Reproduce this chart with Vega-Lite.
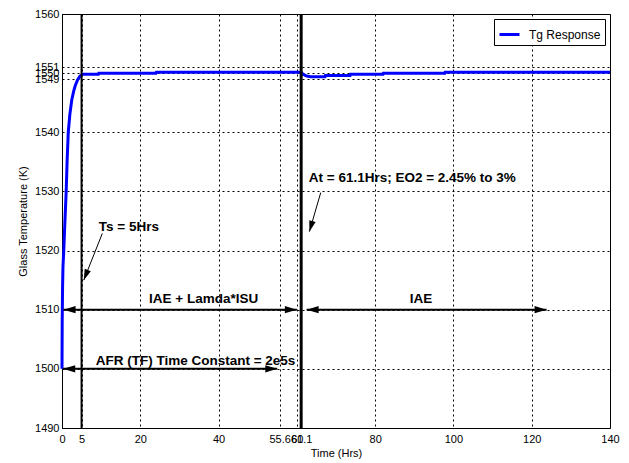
{
  "$schema": "https://vega.github.io/schema/vega-lite/v6.json",
  "width": 548,
  "height": 414,
  "autosize": {"type": "none"},
  "padding": {"left": 62, "top": 14, "right": 19, "bottom": 35},
  "background": "white",
  "config": {
    "view": {"stroke": "black", "strokeWidth": 1},
    "axis": {
      "grid": true, "gridColor": "black", "gridDash": [2, 3], "gridOpacity": 1, "gridWidth": 1,
      "domainColor": "black", "ticks": false,
      "labelColor": "black", "labelFont": "Liberation Sans", "labelFontSize": 11,
      "titleColor": "black", "titleFont": "Liberation Sans", "titleFontSize": 11, "titleFontWeight": "normal",
      "labelOverlap": false, "labelFlush": false
    },
    "legend": {
      "orient": "top-right", "offset": 5, "strokeColor": "black", "fillColor": "white",
      "padding": 4, "symbolType": "stroke", "symbolSize": 400, "symbolStrokeWidth": 3,
      "labelFont": "Liberation Sans", "labelFontSize": 12, "labelColor": "black", "labelOffset": 8
    }
  },
  "datasets": {
    "curve": [
      {"t": 0, "v": 1500}, {"t": 0.05, "v": 1508}, {"t": 0.15, "v": 1514}, {"t": 0.25, "v": 1517.3},
      {"t": 0.45, "v": 1520}, {"t": 0.75, "v": 1525}, {"t": 1.07, "v": 1530}, {"t": 1.3, "v": 1535},
      {"t": 1.6, "v": 1540}, {"t": 2.0, "v": 1543}, {"t": 2.5, "v": 1545.5}, {"t": 3.0, "v": 1547},
      {"t": 3.4, "v": 1547.9}, {"t": 4.0, "v": 1548.9}, {"t": 4.6, "v": 1549.5}, {"t": 5.3, "v": 1549.8},
      {"t": 9.3, "v": 1549.8}, {"t": 9.4, "v": 1550.0}, {"t": 24.0, "v": 1550.0}, {"t": 24.1, "v": 1550.15},
      {"t": 61.1, "v": 1550.15}, {"t": 61.6, "v": 1549.8}, {"t": 62.5, "v": 1549.5}, {"t": 63.5, "v": 1549.4},
      {"t": 67.2, "v": 1549.4}, {"t": 67.3, "v": 1549.6}, {"t": 73.6, "v": 1549.6}, {"t": 73.7, "v": 1549.8},
      {"t": 82.0, "v": 1549.8}, {"t": 82.1, "v": 1550.0}, {"t": 97.8, "v": 1550.0}, {"t": 97.9, "v": 1550.15},
      {"t": 140, "v": 1550.15}
    ],
    "vlines": [{"id": "ts", "t": 5}, {"id": "at", "t": 61.1}],
    "spans": [
      {"x1": 0.4, "x2": 60, "y": 1510},
      {"x1": 62.5, "x2": 123.8, "y": 1510},
      {"x1": 0.3, "x2": 55, "y": 1500}
    ],
    "slants": [
      {"id": "ts", "x1": 10.3, "y1": 1522.9, "x2": 5.56, "y2": 1515.0},
      {"id": "at", "x1": 66.1, "y1": 1529.8, "x2": 63.2, "y2": 1523.2}
    ],
    "notes": [
      {"t": 17.1, "v": 1524.0, "label": "Ts = 5Hrs"},
      {"t": 89.5, "v": 1532.3, "label": "At = 61.1Hrs; EO2 = 2.45% to 3%"},
      {"t": 36.2, "v": 1511.8, "label": "IAE + Lamda*ISU"},
      {"t": 91.7, "v": 1511.8, "label": "IAE"},
      {"t": 34.1, "v": 1501.4, "label": "AFR (TF) Time Constant = 2e5s"}
    ]
  },
  "layer": [
    {
      "data": {"name": "curve"},
      "mark": {"type": "line", "strokeWidth": 3, "interpolate": "linear"},
      "encoding": {
        "x": {
          "field": "t", "type": "quantitative", "title": "Time (Hrs)",
          "scale": {"domain": [0, 140], "nice": false, "zero": false},
          "axis": {"values": [0, 5, 20, 40, 55.6, 60, 61.1, 80, 100, 120, 140], "labelExpr": "toString(datum.value)", "labelPadding": 5, "titlePadding": 3}
        },
        "y": {
          "field": "v", "type": "quantitative", "title": "Glass Temperature (K)",
          "scale": {"domain": [1490, 1560], "nice": false, "zero": false},
          "axis": {"values": [1490, 1500, 1510, 1520, 1530, 1540, 1549, 1550, 1551, 1560], "labelExpr": "toString(datum.value)", "labelPadding": 3, "titlePadding": 6}
        },
        "color": {"datum": "Tg Response", "type": "nominal", "scale": {"domain": ["Tg Response"], "range": ["#0000ff"]}, "legend": {"title": null}}
      }
    },
    {
      "data": {"name": "vlines"},
      "transform": [{"filter": "datum.id === 'ts'"}],
      "mark": {"type": "rule", "color": "black", "strokeWidth": 2},
      "encoding": {"x": {"field": "t", "type": "quantitative", "title": "Time (Hrs)"}}
    },
    {
      "data": {"name": "vlines"},
      "transform": [{"filter": "datum.id === 'at'"}],
      "mark": {"type": "rule", "color": "black", "strokeWidth": 3},
      "encoding": {"x": {"field": "t", "type": "quantitative", "title": "Time (Hrs)"}}
    },
    {
      "data": {"name": "spans"},
      "mark": {"type": "rule", "color": "black", "strokeWidth": 2},
      "encoding": {
        "x": {"field": "x1", "type": "quantitative", "title": "Time (Hrs)"},
        "x2": {"field": "x2"},
        "y": {"field": "y", "type": "quantitative", "title": "Glass Temperature (K)"}
      }
    },
    {
      "data": {"name": "spans"},
      "mark": {"type": "point", "shape": "M0,0L2,-0.6L2,0.6Z", "filled": true, "color": "black", "opacity": 1, "size": 144, "strokeWidth": 0},
      "encoding": {
        "x": {"field": "x1", "type": "quantitative", "title": "Time (Hrs)"},
        "y": {"field": "y", "type": "quantitative", "title": "Glass Temperature (K)"}
      }
    },
    {
      "data": {"name": "spans"},
      "mark": {"type": "point", "shape": "M0,0L-2,-0.6L-2,0.6Z", "filled": true, "color": "black", "opacity": 1, "size": 144, "strokeWidth": 0},
      "encoding": {
        "x": {"field": "x2", "type": "quantitative", "title": "Time (Hrs)"},
        "y": {"field": "y", "type": "quantitative", "title": "Glass Temperature (K)"}
      }
    },
    {
      "data": {"name": "slants"},
      "mark": {"type": "rule", "color": "black", "strokeWidth": 1},
      "encoding": {
        "x": {"field": "x1", "type": "quantitative", "title": "Time (Hrs)"},
        "y": {"field": "y1", "type": "quantitative", "title": "Glass Temperature (K)"},
        "x2": {"field": "x2"},
        "y2": {"field": "y2"}
      }
    },
    {
      "data": {"name": "slants"},
      "transform": [{"filter": "datum.id === 'ts'"}],
      "mark": {"type": "point", "shape": "M0,0L-0.6,-2L0.6,-2Z", "angle": 21.5, "filled": true, "color": "black", "opacity": 1, "size": 120, "strokeWidth": 0},
      "encoding": {
        "x": {"field": "x2", "type": "quantitative", "title": "Time (Hrs)"},
        "y": {"field": "y2", "type": "quantitative", "title": "Glass Temperature (K)"}
      }
    },
    {
      "data": {"name": "slants"},
      "transform": [{"filter": "datum.id === 'at'"}],
      "mark": {"type": "point", "shape": "M0,0L-0.6,-2L0.6,-2Z", "angle": 16.3, "filled": true, "color": "black", "opacity": 1, "size": 120, "strokeWidth": 0},
      "encoding": {
        "x": {"field": "x2", "type": "quantitative", "title": "Time (Hrs)"},
        "y": {"field": "y2", "type": "quantitative", "title": "Glass Temperature (K)"}
      }
    },
    {
      "data": {"name": "notes"},
      "mark": {"type": "text", "font": "Liberation Sans", "fontWeight": "bold", "fontSize": 13.5, "color": "black", "align": "center", "baseline": "middle"},
      "encoding": {
        "x": {"field": "t", "type": "quantitative", "title": "Time (Hrs)"},
        "y": {"field": "v", "type": "quantitative", "title": "Glass Temperature (K)"},
        "text": {"field": "label"}
      }
    }
  ]
}
